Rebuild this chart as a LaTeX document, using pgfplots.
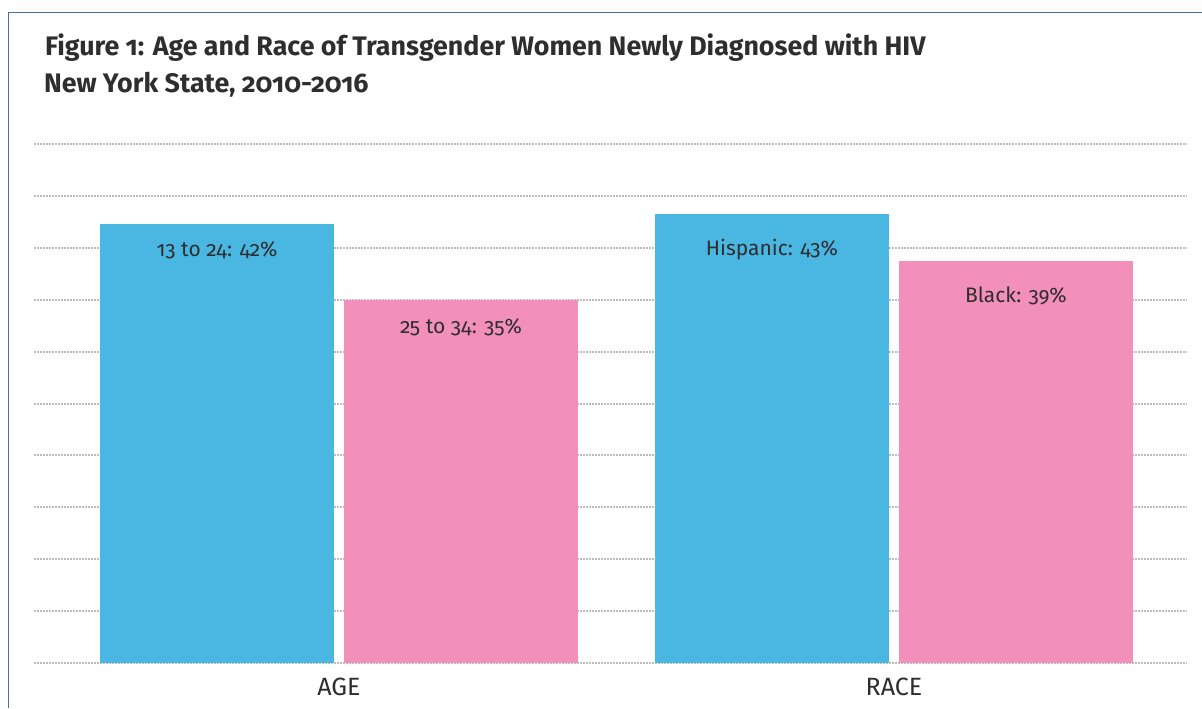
\documentclass[border=0pt]{standalone}
\usepackage{fontspec}
\setmainfont{Fira Sans}[Numbers=OldStyle]
\usepackage{pgfplots}
\pgfplotsset{compat=1.18}
\definecolor{bblue}{HTML}{4AB6E2}
\definecolor{bpink}{HTML}{F290BB}
\definecolor{framec}{HTML}{4A6CA6}
\definecolor{gridc}{HTML}{BDBDBD}
\definecolor{txt}{HTML}{2E2E2E}
\begin{document}
\begin{tikzpicture}
\path[use as bounding box] (0,0) rectangle (601pt,354pt);
\draw[framec, line width=0.9pt] (4.25pt,0) -- (4.25pt,347.75pt) -- (601pt,347.75pt);
\node[anchor=base west, font=\bfseries\fontsize{13.4}{15}\selectfont, text=txt, inner sep=0] at (22.3pt,326pt) {Figure 1: Age and Race of Transgender Women Newly Diagnosed with HIV};
\node[anchor=base west, font=\bfseries\fontsize{13.4}{15}\selectfont, text=txt, inner sep=0] at (21.8pt,307.5pt) {New York State, 2010-2016};
\begin{axis}[
  at={(17pt,22.5pt)}, anchor=south west,
  scale only axis, width=576.5pt, height=259.5pt,
  xmin=-0.5495, xmax=1.528, ymin=0, ymax=50,
  axis line style={draw=none},
  ytick={0,5,...,50}, yticklabels={},
  major tick length=0pt,
  ymajorgrids,
  grid style={gridc, line width=1pt, dash pattern=on 0.95pt off 0.55pt},
  xtick={0,1}, xticklabels={AGE,RACE},
  xticklabel style={font=\fontsize{12.5}{14}\selectfont, text=txt, yshift=-4pt},
  clip=false,
  nodes near coords, point meta=explicit symbolic,
  lbl/.style 2 args={every node near coord/.append style={anchor=base, xshift=#2, yshift=-#1, font=\fontsize{10.5}{12}\selectfont, text=txt}},
]
\addplot[ybar, fill=bblue, draw=none, bar width=0.4216, bar shift=-0.2198, lbl={16.5pt}{-61pt}] coordinates {(0,42.3) [13 to 24: 42\%]};
\addplot[ybar, fill=bpink, draw=none, bar width=0.4216, bar shift=0.2198, lbl={17pt}{61pt}] coordinates {(0,35.0) [25 to 34: 35\%]};
\addplot[ybar, fill=bblue, draw=none, bar width=0.4216, bar shift=-0.2198, lbl={21pt}{-61pt}] coordinates {(1,43.3) [Hispanic: 43\%]};
\addplot[ybar, fill=bpink, draw=none, bar width=0.4216, bar shift=0.2198, lbl={20.5pt}{61pt}] coordinates {(1,38.7) [Black: 39\%]};
\end{axis}
\end{tikzpicture}
\end{document}
